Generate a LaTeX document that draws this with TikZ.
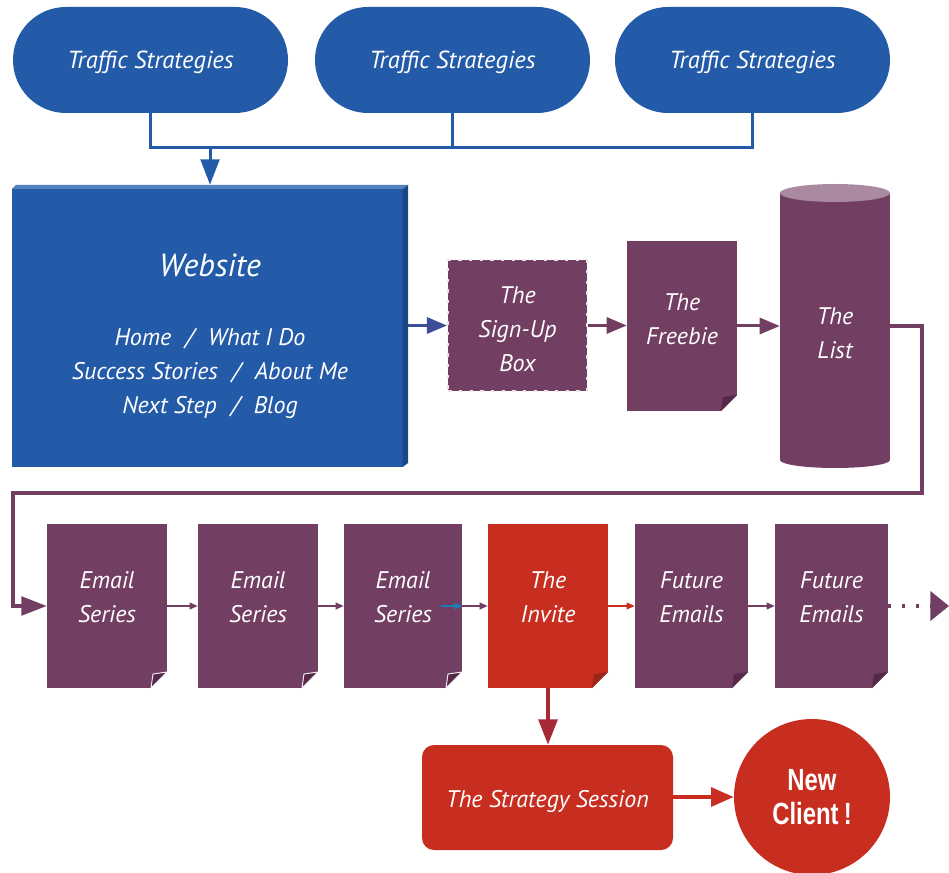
\documentclass[tikz,border=0pt]{standalone}
\usepackage{fontspec}
\setmainfont{PT Sans}
\newfontfamily\condfont[FakeStretch=0.78]{Liberation Sans}
\usetikzlibrary{shapes.misc,arrows.meta}
\definecolor{cblue}{HTML}{245BA8}
\definecolor{cbluetop}{HTML}{5580C0}
\definecolor{cblueside}{HTML}{1C4785}
\definecolor{cpurple}{HTML}{723F63}
\definecolor{cpurpled}{HTML}{55294A}
\definecolor{cpurplel}{HTML}{A98AA0}
\definecolor{cred}{HTML}{C72E20}
\definecolor{credd}{HTML}{9E2418}
\definecolor{carrowred}{HTML}{A52A35}
\definecolor{cslate}{HTML}{3D4E96}
\tikzset{
  lbl/.style={text=white, font=\itshape\fontsize{18}{25.5}\selectfont, align=center, inner sep=0},
  pill/.style={rounded rectangle, fill=cblue, minimum width=206.25pt, minimum height=79.5pt, inner sep=0},
  doc/.style 2 args={fill=#1, inner sep=0, minimum width=90pt, minimum height=123pt, path picture={
    \fill[white] ([xshift=-12pt]path picture bounding box.south east) -- (path picture bounding box.south east)
      -- ([yshift=12pt]path picture bounding box.south east) -- cycle;
    \fill[#2] ([xshift=-12pt]path picture bounding box.south east) -- ([yshift=12pt]path picture bounding box.south east)
      -- ([xshift=-10.5pt,yshift=10.5pt]path picture bounding box.south east) -- cycle;
  }},
  webbox/.style={fill=white, inner sep=0, minimum width=297pt, minimum height=211.5pt, path picture={
    \fill[cblue] (path picture bounding box.south west) rectangle ([xshift=-4pt,yshift=-3pt]path picture bounding box.north east);
    \fill[cbluetop] ([yshift=-3pt]path picture bounding box.north west) -- ([xshift=3pt]path picture bounding box.north west)
      -- (path picture bounding box.north east) -- ([xshift=-4pt,yshift=-3pt]path picture bounding box.north east) -- cycle;
    \fill[cblueside] ([xshift=-4pt,yshift=-3pt]path picture bounding box.north east) -- (path picture bounding box.north east)
      -- ([yshift=3pt]path picture bounding box.south east) -- ([xshift=-4pt]path picture bounding box.south east) -- cycle;
  }},
  bus/.style={draw=cblue, line width=2.25pt},
  bigtip/.style={-{Triangle[length=19pt,width=14pt]}},
  midtip/.style={-{Triangle[length=15pt,width=12pt]}},
  smalltip/.style={-{Triangle[length=6pt,width=5pt]}},
}
\begin{document}
\begin{tikzpicture}[x=0.75pt,y=-0.75pt]
\useasboundingbox (0,0) rectangle (949,873);

% top pills
\node[pill] (p1) at (150.5,60) {};
\node[pill] (p2) at (452.5,60) {};
\node[pill] (p3) at (752.5,60) {};
\node[lbl, font=\itshape\fontsize{18.5}{22}\selectfont] (p1t) at (150.5,62) {Traffic Strategies};
\node[lbl, font=\itshape\fontsize{18.5}{22}\selectfont] (p2t) at (452.5,62) {Traffic Strategies};
\node[lbl, font=\itshape\fontsize{18.5}{22}\selectfont] (p3t) at (752.5,62) {Traffic Strategies};

% website
\node[webbox] (web) at (210,326) {};
\node[lbl, font=\itshape\fontsize{24}{28}\selectfont] (webtitle) at (210,265) {Website};
\node[lbl] (webmenu) at (210,373) {Home\,\, /\,\, What I Do\\Success Stories\,\, /\,\, About Me\\Next Step\,\, /\,\, Blog};

% bus
\coordinate (busy) at (0,148);
\draw[bus] (p1.south) -- (p1.south |- busy) -- (p3.south |- busy) -- (p3.south);
\draw[bus] (p2.south) -- (p2.south |- busy);
\draw[bus, bigtip] (web.north |- busy) -- (web.north);

% signup, freebie, list
\node[fill=cpurple, draw=white!85!cpurple, dash pattern=on 2.5pt off 5.5pt, line width=1.8pt,
  minimum width=104pt, minimum height=98pt] (signup) at (517.5,325.5) {};
\node[lbl] (signuptxt) at (517.5,329) {The\\Sign-Up\\Box};
\node[doc={cpurple}{cpurpled}, minimum width=82.5pt, minimum height=127.5pt] (freebie) at (682,326) {};
\node[lbl] (freebietxt) at (682,319) {The\\Freebie};

\fill[cpurple] (780,193) rectangle (890,460);
\fill[cpurple] (835,460) ellipse [x radius=55, y radius=8];
\fill[cpurplel] (835,193) ellipse [x radius=55, y radius=9];
\node[inner sep=0, minimum width=82.5pt, minimum height=212pt] (list) at (835,326) {};
\node[lbl] (listtxt) at (835,333) {The\\List};

\draw[draw=cslate, line width=2.25pt, midtip] (web.east |- signup.west) -- (signup.west);
\draw[draw=cpurple, line width=2.25pt, midtip] (signup.east) -- (freebie.west |- signup.east);
\draw[draw=cpurple, line width=2.25pt, midtip] (freebie.east |- list.west) -- (list.west);

% email row
\node[doc={cpurple}{fill=cpurpled,draw=white!90!cpurple,line width=0.7pt}] (e1) at (107,606) {};
\node[doc={cpurple}{fill=cpurpled,draw=white!90!cpurple,line width=0.7pt}] (e2) at (258,606) {};
\node[doc={cpurple}{fill=cpurpled,draw=white!90!cpurple,line width=0.7pt}, minimum width=88.5pt] (e3) at (403,606) {};
\node[doc={cred}{credd}] (inv) at (548,606) {};
\node[doc={cpurple}{cpurpled}, minimum width=84.75pt] (f1) at (691.5,606) {};
\node[doc={cpurple}{cpurpled}, minimum width=84.75pt] (f2) at (831.5,606) {};
\node[lbl] (e1t) at (107,597) {Email\\Series};
\node[lbl] (e2t) at (258,597) {Email\\Series};
\node[lbl] (e3t) at (403,597) {Email\\Series};
\node[lbl] (invt) at (548,597) {The\\Invite};
\node[lbl] (f1t) at (691.5,597) {Future\\Emails};
\node[lbl] (f2t) at (831.5,597) {Future\\Emails};

% loop from list to first email
\coordinate (c1) at (922,493);
\coordinate (c2) at (13,493);
\draw[draw=cpurple, line width=2.4pt, bigtip] (list.east) -| (c1) -- (c2) |- (e1.west);

\draw[draw=cpurple, line width=1.1pt, smalltip] (e1.east) -- (e2.west);
\draw[draw=cpurple, line width=1.1pt, smalltip] (e2.east) -- (e3.west);
\draw[draw=cblue!80!cyan, line width=1.1pt, smalltip] ([xshift=-16pt]e3.east) -- (e3.east);
\draw[draw=cpurple, line width=1.1pt, smalltip] (e3.east) -- (inv.west);
\draw[draw=cred, line width=1.1pt, smalltip] (inv.east) -- (f1.west);
\draw[draw=cpurple, line width=1.1pt, smalltip] (f1.east) -- (f2.west);
\coordinate (tail) at (949,606);
\draw[draw=cpurple, line width=2.4pt, dash pattern=on 2.4pt off 8pt, -{Triangle[length=14pt,width=22pt]}] (f2.east) -- (tail);

% bottom
\node[fill=cred, rounded corners=9pt, minimum width=188.25pt, minimum height=78.75pt] (strat) at (547.5,797.5) {};
\node[lbl] (strattxt) at (547.5,801) {The Strategy Session};
\node[circle, fill=cred, minimum size=117pt, inner sep=0, text=white, align=center,
  font=\condfont\bfseries\fontsize{23}{25}\selectfont] (client) at (812,797) {New\\Client\,!};
\draw[draw=carrowred, line width=3pt, bigtip] (inv.south) -- (strat.north -| inv.south);
\draw[draw=cred, line width=3pt, -{Triangle[length=17pt,width=14pt]}] (strat.east |- client.west) -- (client.west);
\end{tikzpicture}
\end{document}
